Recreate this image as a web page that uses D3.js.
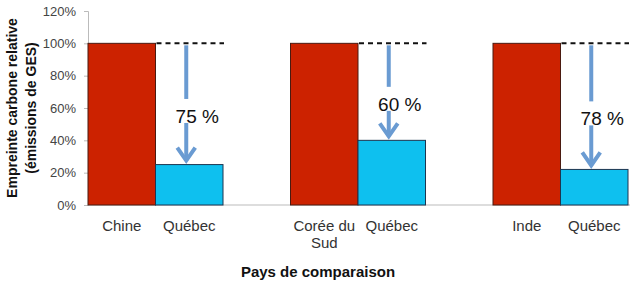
<!DOCTYPE html>
<html>
<head>
<meta charset="utf-8">
<script src="https://cdn.jsdelivr.net/npm/d3@7"></script>
<style>
  body { margin: 0; background: #fff; }
  svg { display: block; font-family: "Liberation Sans", Arial, sans-serif; }
</style>
</head>
<body>
<svg id="chart" width="636" height="283"></svg>
<script>
// data
const countryLabels = [["Chine"], ["Corée du", "Sud"], ["Inde"]];
const quebecLabel = "Québec";
const countryValues = [100, 100, 100];
const quebecValues = [25, 40, 22];
const reductionLabels = ["75 %", "60 %", "78 %"];
const yTicks = [0, 20, 40, 60, 80, 100, 120];

const svg = d3.select("#chart");
const margin = { left: 88, right: 8, top: 11, bottom: 78 };
const width = 636, height = 283;

// 8 slots: country, québec, blank, country, québec, blank, country, québec
const slots = [];
countryLabels.forEach((d, i) => {
  slots.push("c" + i, "q" + i);
  if (i < countryLabels.length - 1) slots.push("gap" + i);
});

const x = d3.scaleBand().domain(slots).range([margin.left, width - margin.right]).padding(0);
const y = d3.scaleLinear().domain([0, 120]).range([height - margin.bottom, margin.top]);

const red = "#cc2200", blue = "#0ec0ef", arrowColor = "#6a9bd2";

// y axis
const yAxis = svg.append("g")
  .attr("transform", `translate(${margin.left},0)`)
  .call(d3.axisLeft(y).tickValues(yTicks).tickSize(4).tickFormat(d => d + "%"));
yAxis.selectAll(".domain, .tick line").attr("stroke", "#bbb");
yAxis.selectAll(".tick text")
  .attr("x", -12)
  .attr("fill", "#444")
  .style("font-size", "13px")
  .style("font-family", "Liberation Sans, Arial, sans-serif");

// baseline
svg.append("line")
  .attr("x1", margin.left).attr("x2", width - margin.right + 2)
  .attr("y1", y(0)).attr("y2", y(0))
  .attr("stroke", "#bbb");

// bars
countryLabels.forEach((lab, i) => {
  svg.append("rect")
    .attr("x", x("c" + i)).attr("width", x.bandwidth())
    .attr("y", y(countryValues[i])).attr("height", y(0) - y(countryValues[i]))
    .attr("fill", red).attr("stroke", "#4a1a10").attr("stroke-width", 1);
  svg.append("rect")
    .attr("x", x("q" + i)).attr("width", x.bandwidth())
    .attr("y", y(quebecValues[i])).attr("height", y(0) - y(quebecValues[i]))
    .attr("fill", blue).attr("stroke", "#1d3550").attr("stroke-width", 1);

  // dashed reference at country level
  svg.append("line")
    .attr("x1", x("q" + i) + 1).attr("x2", x("q" + i) + x.bandwidth() + 1)
    .attr("y1", y(countryValues[i])).attr("y2", y(countryValues[i]))
    .attr("stroke", "#111").attr("stroke-width", 2)
    .attr("stroke-dasharray", "5,4");

  // arrow with label
  const ax = x("q" + i) + x.bandwidth() / 2 - 3;
  const top = y(countryValues[i]) + 2;
  const tip = y(quebecValues[i]) - 4;
  const labelY = y((countryValues[i] + quebecValues[i]) / 2) + 12;
  const g = svg.append("g").attr("stroke", arrowColor).attr("stroke-width", 4).attr("fill", "none");
  g.append("line").attr("x1", ax).attr("x2", ax).attr("y1", top).attr("y2", labelY - 17);
  g.append("line").attr("x1", ax).attr("x2", ax).attr("y1", labelY + 7).attr("y2", tip);
  g.append("path")
    .attr("d", d3.line()([[ax - 9, tip - 13], [ax, tip], [ax + 9, tip - 13]]))
    .attr("stroke-linejoin", "miter");

  svg.append("text")
    .attr("x", ax + 11).attr("y", labelY + 7)
    .attr("text-anchor", "middle")
    .attr("fill", "#111")
    .style("font-size", "19px")
    .text(reductionLabels[i]);

  // category labels
  const cl = svg.append("text")
    .attr("text-anchor", "middle").attr("fill", "#333").style("font-size", "15px");
  lab.forEach((line, j) => {
    cl.append("tspan")
      .attr("x", x("c" + i) + x.bandwidth() / 2)
      .attr("y", 231 + j * 17)
      .text(line);
  });
  svg.append("text")
    .attr("x", x("q" + i) + x.bandwidth() / 2).attr("y", 231)
    .attr("text-anchor", "middle").attr("fill", "#333").style("font-size", "15px")
    .text(quebecLabel);
});

// axis titles
svg.append("text")
  .attr("x", 318).attr("y", 277)
  .attr("text-anchor", "middle")
  .attr("fill", "#111")
  .style("font-size", "15px").style("font-weight", "bold")
  .text("Pays de comparaison");

const yt = svg.append("text")
  .attr("transform", "translate(17,108) rotate(-90)")
  .attr("text-anchor", "middle")
  .attr("fill", "#111")
  .style("font-size", "14px").style("font-weight", "bold");
yt.append("tspan").attr("x", 0).attr("y", 0).text("Empreinte carbone relative");
yt.append("tspan").attr("x", 0).attr("y", 19).text("(émissions de GES)");
</script>
</body>
</html>
